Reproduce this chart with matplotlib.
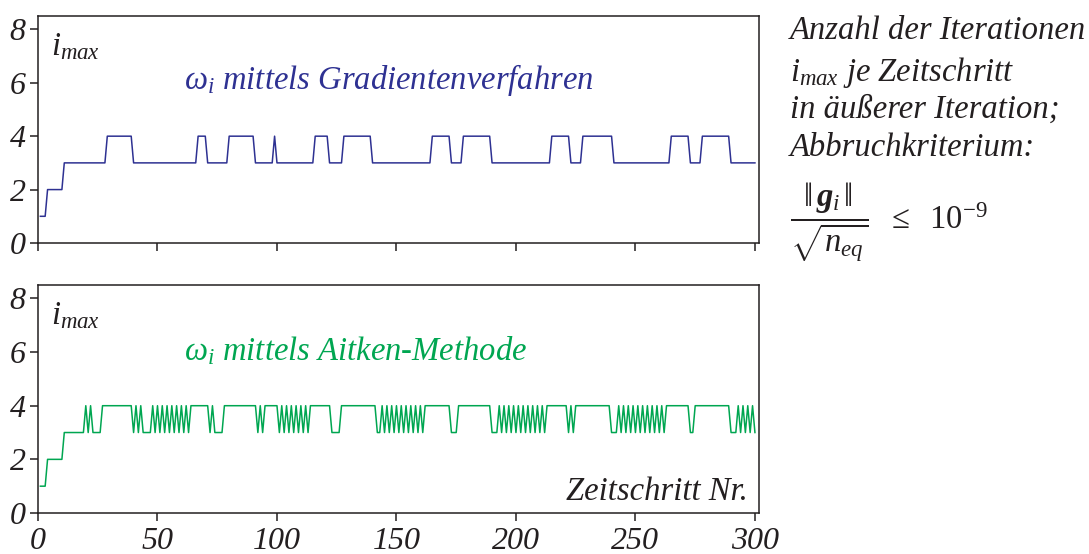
import numpy as np
import matplotlib
matplotlib.use("Agg")
import matplotlib.pyplot as plt

# ---------------- data ----------------
steps = list(range(1, 301))

# top: omega_i via gradient method  (segments: (first_step, last_step, value))
grad_segments = [
    (1, 3, 1), (4, 10, 2), (11, 28, 3), (29, 39, 4), (40, 66, 3), (67, 70, 4),
    (71, 79, 3), (80, 90, 4), (91, 98, 3), (99, 99, 4), (100, 115, 3),
    (116, 121, 4), (122, 127, 3), (128, 139, 4), (140, 164, 3), (165, 172, 4),
    (173, 177, 3), (178, 189, 4), (190, 214, 3), (215, 222, 4), (223, 227, 3),
    (228, 240, 4), (241, 264, 3), (265, 272, 4), (273, 277, 3), (278, 289, 4),
    (290, 300, 3),
]

# bottom: omega_i via Aitken method
# (first_step, last_step, value) ; 'alt' = alternating 4/3 starting with 4,
# 'alt3' = alternating 3/4 starting with 3
aitken_segments = [
    (1, 3, 1), (4, 10, 2), (11, 19, 3), (20, 20, 4), (21, 21, 3), (22, 22, 4),
    (23, 26, 3), (27, 39, 4), (40, 40, 3), (41, 41, 4), (42, 42, 3), (43, 43, 4),
    (44, 47, 3), (48, 64, 'alt'), (65, 71, 4), (72, 72, 3), (73, 73, 4),
    (74, 77, 3), (78, 91, 4), (92, 92, 3), (93, 93, 4), (94, 94, 3),
    (95, 100, 4), (101, 114, 'alt3'), (115, 122, 4), (123, 126, 3),
    (127, 141, 4), (142, 143, 3), (144, 162, 'alt'), (163, 172, 4),
    (173, 175, 3), (176, 189, 4), (190, 192, 3), (193, 213, 'alt'),
    (214, 221, 4), (222, 222, 3), (223, 223, 4), (224, 224, 3), (225, 239, 4),
    (240, 242, 3), (243, 263, 'alt'), (264, 272, 4), (273, 274, 3),
    (275, 289, 4), (290, 292, 3), (293, 300, 'alt'),
]

x_ticks = [0, 50, 100, 150, 200, 250, 300]
y_ticks = [0, 2, 4, 6, 8]


def expand(segments):
    vals = []
    for a, b, v in segments:
        for k in range(a, b + 1):
            if v == 'alt':
                vals.append(4 if (k - a) % 2 == 0 else 3)
            elif v == 'alt3':
                vals.append(3 if (k - a) % 2 == 0 else 4)
            else:
                vals.append(v)
    return vals


grad_vals = expand(grad_segments)
aitken_vals = expand(aitken_segments)

# ---------------- style ----------------
plt.rcParams['font.family'] = ['Liberation Serif', 'DejaVu Serif']
plt.rcParams['font.style'] = 'italic'
plt.rcParams['mathtext.fontset'] = 'custom'
plt.rcParams['mathtext.rm'] = 'Liberation Serif:style=normal'
plt.rcParams['mathtext.it'] = 'Liberation Serif:style=italic'
plt.rcParams['mathtext.bf'] = 'Liberation Serif:style=italic:weight=bold'

ink = '#231F20'
blue = '#2E3192'
green = '#00A651'
fs = 23.5
tfs = 23

W, H = 1089, 554
fig = plt.figure(figsize=(W / 100, H / 100), dpi=100)


def px_axes(l, t, r, b):
    return fig.add_axes([l / W, 1 - b / H, (r - l) / W, (b - t) / H])


ax1 = px_axes(38, 16, 759, 243)
ax2 = px_axes(38, 285, 759, 513)

for ax in (ax1, ax2):
    ax.set_xlim(0, 301.7)
    ax.set_ylim(0, 8.5)
    ax.set_xticks(x_ticks)
    ax.set_yticks(y_ticks)
    ax.tick_params(direction='out', length=6, width=1.1, color=ink,
                   labelsize=tfs, labelcolor=ink, pad=3)
    ax.tick_params(axis='x', pad=4)
    for s in ax.spines.values():
        s.set_color(ink)
        s.set_linewidth(1.1)
    ax.text(5.5, 7.35, r'$i_{max}$', fontsize=fs, color=ink, ha='left', va='center')

ax1.tick_params(axis='x', labelbottom=False)

ax1.plot(steps, grad_vals, color=blue, lw=1.1)
ax2.plot(steps, aitken_vals, color=green, lw=1.1)

ax1.text(61, 6.1, r'$\omega_i$ mittels Gradientenverfahren', fontsize=fs,
         color=blue, ha='left', va='center')
ax2.text(61, 6.05, r'$\omega_i$ mittels Aitken-Methode', fontsize=fs,
         color=green, ha='left', va='center')
ax2.text(297, 0.78, 'Zeitschritt Nr.', fontsize=fs, color=ink,
         ha='right', va='center')

# right-hand annotation
xr = 790 / W
lines = ['Anzahl der Iterationen', r'$i_{max}$ je Zeitschritt',
         'in äußerer Iteration;', 'Abbruchkriterium:']
ys = [31, 72, 110, 148]
for t, y in zip(lines, ys):
    fig.text(xr, 1 - y / H, t, fontsize=fs, color=ink, ha='left', va='center')

fig.text(xr, 1 - 222 / H,
         r'$\dfrac{\Vert\,\mathbf{g}_i\,\Vert}{\sqrt{n_{eq}}}\ \ \leq\ \ 10^{-9}$',
         fontsize=fs, color=ink, ha='left', va='center')

fig.savefig('out.png', dpi=100)
